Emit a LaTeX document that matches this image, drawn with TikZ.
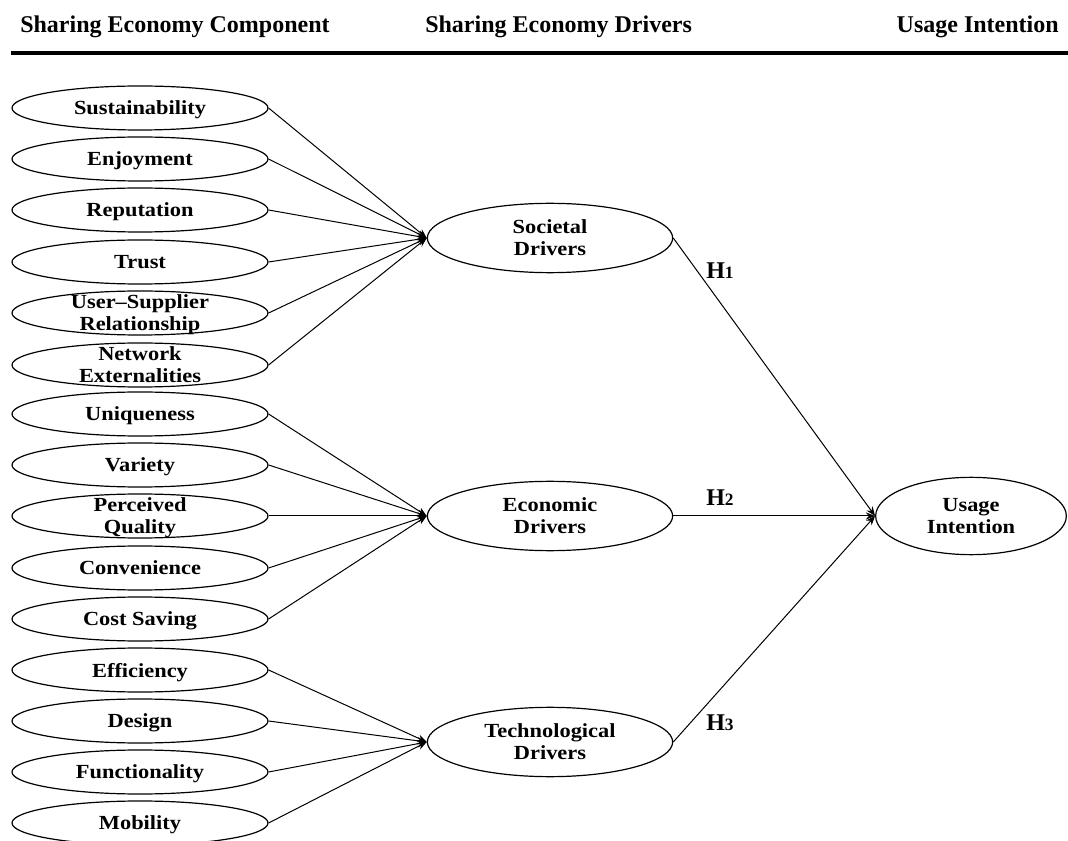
\documentclass[tikz,border=0pt]{standalone}
\usepackage{fontspec}
\setmainfont{Liberation Serif}
\newfontfamily\ovalfont[FakeStretch=1.12, Ligatures=TeX]{Liberation Serif}
\usetikzlibrary{shapes.geometric,arrows.meta}

\tikzset{
  oval/.style={draw, ellipse, line width=0.9pt, inner sep=0pt, align=center, text depth=0pt,
    font=\ovalfont\bfseries\fontsize{15}{16.5}\selectfont},
  comp/.style={oval, minimum width=192pt, minimum height=33pt},
  comptwo/.style={comp, inner ysep=-9pt},
  driver/.style={oval, minimum width=184pt, minimum height=52pt},
  heading/.style={font=\bfseries\fontsize{18}{20}\selectfont, inner sep=0pt},
  hyp/.style={font=\bfseries\fontsize{18}{20}\selectfont, inner sep=0pt},
  link/.style={line width=0.75pt, -{Stealth[length=7pt,width=5.5pt]}}
}
\newcommand{\hyplabel}[1]{H{\fontsize{13}{13}\selectfont #1}}

\begin{document}
\begin{tikzpicture}[x=0.75pt, y=-0.75pt]
        \useasboundingbox (0,0) rectangle (1068,841);
        % headings
        \node[heading, anchor=base west] (hcomp) at (20,33) {Sharing Economy Component};
        \node[heading, anchor=base west] (hdrv) at (425,33) {Sharing Economy Drivers};
        \node[heading, anchor=base east] (hint) at (1059,33) {Usage Intention};
        \draw[line width=2.4pt] (11,53) -- (1068,53);
        % components
        \node[comp] (sus) at (140,108) {Sustainability};
        \node[comp] (enj) at (140,159) {Enjoyment};
        \node[comp] (rep) at (140,210) {Reputation};
        \node[comp] (tru) at (140,262) {Trust};
        \node[comptwo] (usr) at (140,313) {User–Supplier\\Relationship};
        \node[comptwo] (net) at (140,365) {Network\\Externalities};
        \node[comp] (uni) at (140,414) {Uniqueness};
        \node[comp] (var) at (140,465) {Variety};
        \node[comptwo] (per) at (140,516) {Perceived\\Quality};
        \node[comp] (con) at (140,568) {Convenience};
        \node[comp] (cos) at (140,619) {Cost Saving};
        \node[comp] (eff) at (140,670) {Efficiency};
        \node[comp] (des) at (140,721) {Design};
        \node[comp] (fun) at (140,772) {Functionality};
        \node[comp] (mob) at (140,823) {Mobility};
        % drivers
        \node[driver] (soc) at (550,238) {Societal\\Drivers};
        \node[driver] (eco) at (550,516) {Economic\\Drivers};
        \node[driver] (tec) at (550,742) {Technological\\Drivers};
        \node[oval, minimum width=143pt, minimum height=58pt] (use) at (971,516) {Usage\\Intention};
        % links
        \draw[link] (sus.east) -- (soc.west);
        \draw[link] (enj.east) -- (soc.west);
        \draw[link] (rep.east) -- (soc.west);
        \draw[link] (tru.east) -- (soc.west);
        \draw[link] (usr.east) -- (soc.west);
        \draw[link] (net.east) -- (soc.west);
        \draw[link] (uni.east) -- (eco.west);
        \draw[link] (var.east) -- (eco.west);
        \draw[link] (per.east) -- (eco.west);
        \draw[link] (con.east) -- (eco.west);
        \draw[link] (cos.east) -- (eco.west);
        \draw[link] (eff.east) -- (tec.west);
        \draw[link] (des.east) -- (tec.west);
        \draw[link] (fun.east) -- (tec.west);
        \draw[link] (mob.east) -- (tec.west);
        \draw[link] (soc.east) -- (use.west);
        \draw[link] (eco.east) -- (use.west);
        \draw[link] (tec.east) -- (use.west);
        % hypotheses
        \node[hyp, anchor=base west] (h1) at (706,279) {\hyplabel{1}};
        \node[hyp, anchor=base west] (h2) at (706,506) {\hyplabel{2}};
        \node[hyp, anchor=base west] (h3) at (706,730) {\hyplabel{3}};
      \end{tikzpicture}
\end{document}
